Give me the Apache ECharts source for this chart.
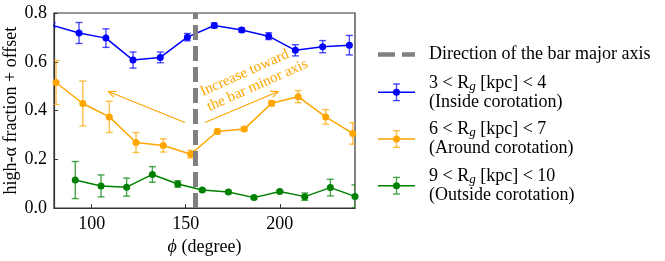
<!DOCTYPE html>
<html><head><meta charset="utf-8">
<script src="https://cdn.jsdelivr.net/npm/echarts@6/dist/echarts.min.js"></script>
<style>html,body{margin:0;padding:0;background:#fff}#c{width:665px;height:261px}</style>
</head><body><div id="c"></div>
<script>
// ---- data ----
const blueX = [79.0, 93.3, 107.6, 122.0, 136.5, 150.9, 165.2, 179.8, 194.1, 208.3, 222.8, 237.0];
const blueY = [0.750, 0.718, 0.697, 0.607, 0.618, 0.701, 0.749, 0.730, 0.705, 0.647, 0.662, 0.668];
const blueErr = [0.010, 0.043, 0.038, 0.033, 0.022, 0.015, 0.010, 0.008, 0.014, 0.023, 0.025, 0.040];
const orangeX = [81.1, 95.3, 109.4, 123.6, 138.1, 152.7, 166.8, 181.1, 195.7, 209.8, 224.4, 238.8];
const orangeY = [0.515, 0.429, 0.374, 0.269, 0.257, 0.221, 0.314, 0.324, 0.430, 0.457, 0.374, 0.306];
const orangeErr = [0.090, 0.092, 0.064, 0.041, 0.027, 0.016, 0.010, 0.008, 0.010, 0.025, 0.030, 0.044];
const greenX = [91.3, 105.0, 118.6, 132.3, 145.8, 158.8, 172.7, 186.3, 200.0, 213.3, 226.9, 240.0];
const greenY = [0.115, 0.091, 0.086, 0.138, 0.099, 0.074, 0.066, 0.043, 0.068, 0.047, 0.084, 0.048];
const greenErr = [0.076, 0.045, 0.037, 0.032, 0.013, 0.006, 0.006, 0.006, 0.006, 0.015, 0.034, 0.047];
const barAngle = 155;
const xTicks = [100, 150, 200];
const yTicks = [0.0, 0.2, 0.4, 0.6, 0.8];
const legendBar = 'Direction of the bar major axis';
const legendLine1 = [['3 < R', ' [kpc] < 4'], ['6 < R', ' [kpc] < 7'], ['9 < R', ' [kpc] < 10']];
const legendLine2 = ['(Inside corotation)', '(Around corotation)', '(Outside corotation)'];
const annotText = 'Increase toward\nthe bar minor axis';
// annotation anchors in data coords
const arrowL = [[149.6, 0.351], [108.9, 0.478]];
const arrowR = [[160.3, 0.351], [199.2, 0.478]];
const annotAnchor = [156.4, 0.505];

const FONT = 'Liberation Serif';
const colors = ['#0000ff', '#ffa500', '#008000'];
const groups = [[blueX, blueY, blueErr], [orangeX, orangeY, orangeErr], [greenX, greenY, greenErr]];

function errRender(color) {
  return function (params, api) {
    const x = api.value(0), y = api.value(1), e = api.value(2);
    const t = api.coord([x, y + e]), b = api.coord([x, y - e]);
    const cap = 3.5;
    const st = { stroke: color, lineWidth: 1.4, opacity: 0.7 };
    return { type: 'group', children: [
      { type: 'line', shape: { x1: t[0], y1: t[1], x2: b[0], y2: b[1] }, style: st },
      { type: 'line', shape: { x1: t[0] - cap, y1: t[1], x2: t[0] + cap, y2: t[1] }, style: st },
      { type: 'line', shape: { x1: b[0] - cap, y1: b[1], x2: b[0] + cap, y2: b[1] }, style: st }
    ]};
  };
}

const series = [];
groups.forEach((g, i) => {
  const [xs, ys, es] = g;
  series.push({
    type: 'line', data: xs.map((x, k) => [x, ys[k]]), clip: true,
    symbol: 'circle', symbolSize: 7, showSymbol: true,
    itemStyle: { color: colors[i] }, lineStyle: { color: colors[i], width: 1.5 },
    z: 3, animation: false
  });
  series.push({
    type: 'custom', data: xs.map((x, k) => [x, ys[k], es[k]]), clip: true,
    renderItem: errRender(colors[i]), z: 2, animation: false
  });
});
series.push({
  type: 'line', data: [], animation: false,
  markLine: { silent: true, symbol: 'none', label: { show: false }, animation: false,
    lineStyle: { color: '#808080', width: 5, type: [15, 6] },
    data: [{ xAxis: barAngle }] }
});

const chart = echarts.init(document.getElementById('c'), null, { renderer: 'canvas' });
chart.setOption({
  animation: false,
  textStyle: { fontFamily: FONT },
  grid: { left: 54, right: 310, top: 13, bottom: 49, show: true, borderColor: '#333', borderWidth: 1.2, backgroundColor: 'transparent' },
  xAxis: {
    type: 'value', min: 80, max: 240, interval: 10,
    splitLine: { show: false },
    axisLine: { show: true, lineStyle: { color: '#333', width: 1.2 } },
    axisTick: { show: true, inside: true, length: 4, customValues: xTicks, lineStyle: { color: '#333' } },
    axisLabel: { customValues: xTicks, color: '#000', fontFamily: FONT, fontSize: 18, margin: 7 },
    name: '{i|ϕ} (degree)', nameLocation: 'middle', nameGap: 24,
    nameTextStyle: { color: '#000', fontFamily: FONT, fontSize: 18,
      rich: { i: { fontStyle: 'italic', fontFamily: FONT, fontSize: 18, color: '#000' } } }
  },
  yAxis: {
    type: 'value', min: 0, max: 0.8, interval: 0.2,
    splitLine: { show: false },
    axisLine: { show: true, lineStyle: { color: '#333', width: 1.2 } },
    axisTick: { show: true, inside: true, length: 4, customValues: yTicks, lineStyle: { color: '#333' } },
    axisLabel: { customValues: yTicks, formatter: v => v.toFixed(1), color: '#000', fontFamily: FONT, fontSize: 18, margin: 7 },
    name: 'high-α fraction + offset', nameLocation: 'middle', nameGap: 30, nameRotate: 90,
    nameTextStyle: { color: '#000', fontFamily: FONT, fontSize: 18 }
  },
  series: series
});

// ---- annotation and legend (graphic) ----
function arrowEls(seg) {
  const p0 = chart.convertToPixel({ gridIndex: 0 }, seg[0]);
  const p1 = chart.convertToPixel({ gridIndex: 0 }, seg[1]);
  const ang = Math.atan2(p1[1] - p0[1], p1[0] - p0[0]);
  const L = 8, a = 0.42;
  const h1 = [p1[0] - L * Math.cos(ang - a), p1[1] - L * Math.sin(ang - a)];
  const h2 = [p1[0] - L * Math.cos(ang + a), p1[1] - L * Math.sin(ang + a)];
  const st = { stroke: '#ffa500', lineWidth: 1.1, fill: null };
  return [
    { type: 'line', shape: { x1: p0[0], y1: p0[1], x2: p1[0], y2: p1[1] }, style: st, z: 10 },
    { type: 'polyline', shape: { points: [h1, p1, h2] }, style: st, z: 10 }
  ];
}
const anc = chart.convertToPixel({ gridIndex: 0 }, annotAnchor);
const graphics = [].concat(arrowEls(arrowL), arrowEls(arrowR));
graphics.push({
  type: 'text', x: anc[0], y: anc[1], rotation: 24 * Math.PI / 180, z: 10,
  style: { text: annotText, fill: '#ffa500', fontFamily: FONT, fontSize: 15, align: 'left', verticalAlign: 'top', lineHeight: 16.5 }
});

// legend
const LX0 = 378, LX1 = 415, LTX = 429;
graphics.push({ type: 'line', shape: { x1: LX0, y1: 54.5, x2: LX1, y2: 54.5 },
  style: { stroke: '#808080', lineWidth: 4.5, lineDash: [17, 7] } });
graphics.push({ type: 'text', x: LTX, y: 54.5,
  style: { text: legendBar, fill: '#000', fontFamily: FONT, fontSize: 18, verticalAlign: 'middle' } });
const legY = [92.3, 139, 185.7];
legY.forEach((y, i) => {
  const c = colors[i];
  const cx = (LX0 + LX1) / 2;
  graphics.push({ type: 'line', shape: { x1: LX0, y1: y, x2: LX1, y2: y }, style: { stroke: c, lineWidth: 1.5 } });
  graphics.push({ type: 'line', shape: { x1: cx, y1: y - 8.3, x2: cx, y2: y + 8.3 }, style: { stroke: c, lineWidth: 1.4, opacity: 0.7 } });
  graphics.push({ type: 'line', shape: { x1: cx - 3.5, y1: y - 8.3, x2: cx + 3.5, y2: y - 8.3 }, style: { stroke: c, lineWidth: 1.4, opacity: 0.7 } });
  graphics.push({ type: 'line', shape: { x1: cx - 3.5, y1: y + 8.3, x2: cx + 3.5, y2: y + 8.3 }, style: { stroke: c, lineWidth: 1.4, opacity: 0.7 } });
  graphics.push({ type: 'circle', shape: { cx: cx, cy: y, r: 3.5 }, style: { fill: c } });
  graphics.push({ type: 'text', x: LTX, y: y,
    style: {
      text: '{a|' + legendLine1[i][0] + '}{g|g}{a|' + legendLine1[i][1] + '}\n{a|' + legendLine2[i] + '}',
      verticalAlign: 'middle', fill: '#000',
      rich: {
        a: { fontFamily: FONT, fontSize: 18, lineHeight: 19, fill: '#000' },
        g: { fontFamily: FONT, fontSize: 13, fontStyle: 'italic', lineHeight: 19, padding: [7, 0, 0, 0], fill: '#000' }
      }
    } });
});
chart.setOption({ graphic: graphics });
</script>
</body></html>
